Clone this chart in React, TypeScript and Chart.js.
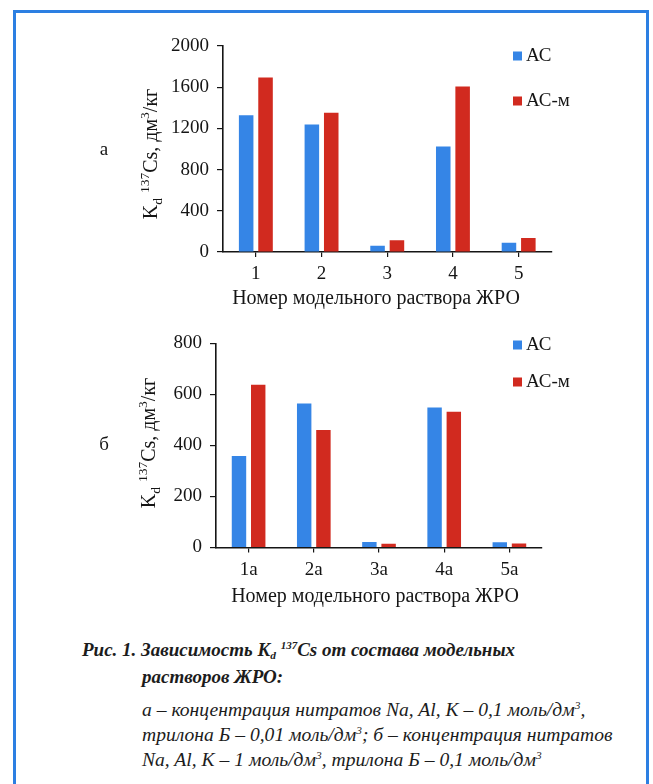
import React, { useEffect, useRef } from "react";
import { Chart, registerables } from "chart.js";

Chart.register(...registerables);

// ---------- data ----------
const seriesNames = ["АС", "АС-м"];

const categoriesA = ["1", "2", "3", "4", "5"];
const acA = [1328, 1238, 61, 1025, 90];
const acmA = [1694, 1351, 113, 1606, 136];
const yMaxA = 2000;
const yStepA = 400;

const categoriesB = ["1а", "2а", "3а", "4а", "5а"];
const acB = [358, 564, 22, 548, 21];
const acmB = [638, 460, 15, 532, 16];
const yMaxB = 800;
const yStepB = 200;

const panelLabels = ["а", "б"];
const xTitle = "Номер модельного раствора ЖРО";

// ---------- style ----------
const W = 653;
const BLUE = "#3585e6";
const RED = "#d12a1f";
const INK = "#151515";
const FONT = "'Liberation Serif', 'Times New Roman', serif";

type Geom = {
  canvasTop: number;
  height: number;
  left: number;
  right: number;
  top: number;
  bottom: number;
  panelX: number;
  panelY: number;
  yTitleX: number;
  yTitleY: number;
  xTitleX: number;
  xTitleY: number;
  legendX: number;
  legendY: number[];
};

const extrasPlugin = {
  id: "extras",
  afterDraw(chart: any, _args: any, opts: any) {
    const ctx = chart.ctx as CanvasRenderingContext2D;
    ctx.save();
    ctx.fillStyle = INK;

    // panel letter
    ctx.font = `19px ${FONT}`;
    ctx.textAlign = "center";
    ctx.textBaseline = "middle";
    ctx.fillText(opts.panel, opts.panelX, opts.panelY);

    // x title
    ctx.font = `20px ${FONT}`;
    ctx.fillText(opts.xTitle, opts.xTitleX, opts.xTitleY);

    // y title (rich text, rotated)
    const segs = [
      { t: "K", s: 20, dy: 0 },
      { t: "d", s: 13.5, dy: 5 },
      { t: " ", s: 20, dy: 0 },
      { t: "137", s: 13.5, dy: -8 },
      { t: "Cs, дм", s: 20, dy: 0 },
      { t: "3", s: 13.5, dy: -8 },
      { t: "/кг", s: 20, dy: 0 },
    ];
    let total = 0;
    const widths: number[] = [];
    for (const sg of segs) {
      ctx.font = `${sg.s}px ${FONT}`;
      const w = ctx.measureText(sg.t).width;
      widths.push(w);
      total += w;
    }
    ctx.translate(opts.yTitleX, opts.yTitleY);
    ctx.rotate(-Math.PI / 2);
    ctx.textAlign = "left";
    ctx.textBaseline = "alphabetic";
    let x = -total / 2;
    segs.forEach((sg, i) => {
      ctx.font = `${sg.s}px ${FONT}`;
      ctx.fillText(sg.t, x, 6.5 + sg.dy);
      x += widths[i];
    });
    ctx.setTransform(1, 0, 0, 1, 0, 0);

    // legend
    ctx.textAlign = "left";
    ctx.textBaseline = "middle";
    ctx.font = `19px ${FONT}`;
    chart.data.datasets.forEach((ds: any, i: number) => {
      const cy = opts.legendY[i];
      ctx.fillStyle = ds.backgroundColor;
      ctx.fillRect(opts.legendX, cy - 4.5, 9, 9);
      ctx.fillStyle = INK;
      ctx.fillText(ds.label, opts.legendX + 13, cy + 0.5);
    });
    ctx.restore();
  },
};

function makeConfig(
  cats: string[],
  a: number[],
  b: number[],
  yMax: number,
  yStep: number,
  panel: string,
  g: Geom
): any {
  const tickFont = { family: FONT, size: 19 };
  const common = { barPercentage: 0.75, categoryPercentage: 0.59, borderWidth: 0 };
  return {
    type: "bar",
    data: {
      labels: cats,
      datasets: [
        { label: seriesNames[0], data: a, backgroundColor: BLUE, ...common },
        { label: seriesNames[1], data: b, backgroundColor: RED, ...common },
      ],
    },
    options: {
      animation: false,
      responsive: false,
      maintainAspectRatio: false,
      layout: { padding: { left: 0, top: g.top, right: W - g.right, bottom: 0 } },
      plugins: {
        legend: { display: false },
        tooltip: { enabled: false },
        extras: {
          panel,
          xTitle,
          panelX: g.panelX,
          panelY: g.panelY,
          yTitleX: g.yTitleX,
          yTitleY: g.yTitleY,
          xTitleX: g.xTitleX,
          xTitleY: g.xTitleY,
          legendX: g.legendX,
          legendY: g.legendY,
        },
      },
      scales: {
        x: {
          offset: true,
          grid: {
            display: true,
            drawOnChartArea: false,
            drawTicks: true,
            tickLength: 5,
            offset: false,
            color: INK,
            lineWidth: 1.2,
          },
          border: { display: true, color: INK, width: 1.6 },
          ticks: { font: tickFont, color: INK, padding: 6, maxRotation: 0 },
          afterFit: (s: any) => {
            s.height = g.height - g.bottom;
          },
        },
        y: {
          min: 0,
          max: yMax,
          grid: {
            display: true,
            drawOnChartArea: false,
            drawTicks: true,
            tickLength: 6,
            color: INK,
            lineWidth: 1.2,
          },
          border: { display: true, color: INK, width: 1.6 },
          ticks: {
            stepSize: yStep,
            font: tickFont,
            color: INK,
            padding: 8,
            callback: (v: any) => String(v),
          },
          afterFit: (s: any) => {
            s.width = g.left;
          },
        },
      },
    },
    plugins: [extrasPlugin],
  };
}

const geomA: Geom = {
  canvasTop: 0,
  height: 320,
  left: 223,
  right: 551.5,
  top: 46,
  bottom: 252,
  panelX: 104,
  panelY: 150,
  yTitleX: 150,
  yTitleY: 154,
  xTitleX: 376,
  xTitleY: 299,
  legendX: 513,
  legendY: [56, 101],
};

const geomB: Geom = {
  canvasTop: 320,
  height: 300,
  left: 216,
  right: 542,
  top: 23.3,
  bottom: 227.5,
  panelX: 104,
  panelY: 125,
  yTitleX: 148,
  yTitleY: 123,
  xTitleX: 375,
  xTitleY: 277,
  legendX: 513,
  legendY: [25, 62],
};

function BarPanel(props: {
  cats: string[];
  a: number[];
  b: number[];
  yMax: number;
  yStep: number;
  panel: string;
  g: Geom;
}) {
  const ref = useRef<HTMLCanvasElement | null>(null);
  useEffect(() => {
    if (!ref.current) return;
    const chart = new Chart(
      ref.current,
      makeConfig(props.cats, props.a, props.b, props.yMax, props.yStep, props.panel, props.g)
    );
    return () => chart.destroy();
  }, []);
  return (
    <canvas
      ref={ref}
      width={W}
      height={props.g.height}
      style={{ position: "absolute", left: 0, top: props.g.canvasTop, width: W, height: props.g.height }}
    />
  );
}

const supStyle: React.CSSProperties = { fontSize: "0.58em", verticalAlign: "0.6em", lineHeight: 0 };
const subStyle: React.CSSProperties = { fontSize: "0.6em", verticalAlign: "-0.3em", lineHeight: 0 };

function Line(props: { top: number; left: number; bold?: boolean; children: React.ReactNode }) {
  return (
    <div
      style={{
        position: "absolute",
        left: props.left,
        top: props.top,
        whiteSpace: "nowrap",
        fontFamily: FONT,
        fontStyle: "italic",
        fontWeight: props.bold ? 700 : 400,
        fontSize: props.bold ? 19 : 19.6,
        lineHeight: "22px",
        color: "#1c1c1c",
      }}
    >
      {props.children}
    </div>
  );
}

export default function App() {
  return (
    <div
      style={{
        position: "absolute",
        left: 0,
        top: 0,
        width: W,
        height: 784,
        background: "#ffffff",
        overflow: "hidden",
      }}
    >
      <div
        style={{
          position: "absolute",
          left: 13,
          top: 10,
          width: 636,
          height: 800,
          boxSizing: "border-box",
          borderLeft: "3px solid #2c7fe2",
          borderTop: "3px solid #2c7fe2",
          borderRight: "3px solid #2c7fe2",
        }}
      />
      <BarPanel cats={categoriesA} a={acA} b={acmA} yMax={yMaxA} yStep={yStepA} panel={panelLabels[0]} g={geomA} />
      <BarPanel cats={categoriesB} a={acB} b={acmB} yMax={yMaxB} yStep={yStepB} panel={panelLabels[1]} g={geomB} />

      <Line top={639} left={82} bold>
        Рис. 1. Зависимость K<span style={subStyle}>d</span> <span style={supStyle}>137</span>Cs от состава модельных
      </Line>
      <Line top={666} left={142} bold>
        растворов ЖРО:
      </Line>
      <Line top={699} left={142}>
        а – концентрация нитратов Na, Al, K – 0,1 моль/дм<span style={supStyle}>3</span>,
      </Line>
      <Line top={724} left={142}>
        трилона Б – 0,01 моль/дм<span style={supStyle}>3</span>; б – концентрация нитратов
      </Line>
      <Line top={749} left={142}>
        Na, Al, K – 1 моль/дм<span style={supStyle}>3</span>, трилона Б – 0,1 моль/дм<span style={supStyle}>3</span>
      </Line>
    </div>
  );
}
